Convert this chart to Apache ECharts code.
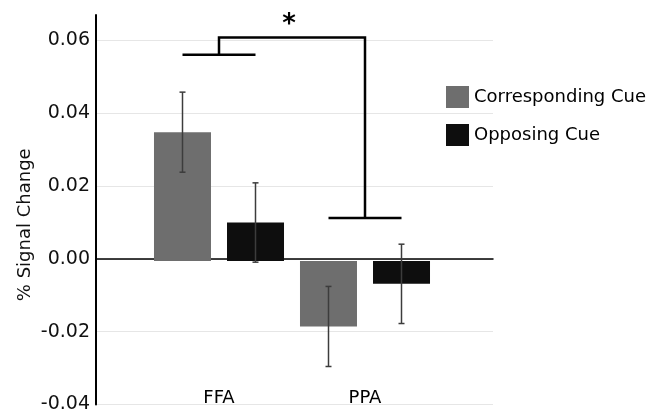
<!DOCTYPE html>
<html>
<head>
<meta charset="utf-8">
<script src="https://cdn.jsdelivr.net/npm/echarts@6/dist/echarts.min.js"></script>
<style>
  html, body { margin: 0; padding: 0; background: #fff; }
  #chart { width: 656px; height: 414px; }
</style>
</head>
<body>
<div id="chart"></div>
<script>
// data
const regions = ['FFA', 'PPA']
const seriesNames = ['Corresponding Cue', 'Opposing Cue']
const corrMeans = [0.0351, -0.0178]
const corrErr = [0.0109, 0.0109]
const oppMeans = [0.0105, -0.0062]
const oppErr = [0.0108, 0.0108]
const yTicks = { min: -0.04, max: 0.067, step: 0.02 }
// significance brackets: FFA pair level, top level, PPA pair level
const bracketLevels = { ffa: 0.0562, top: 0.0609, ppa: 0.0117 }

const barW = 57
const barGapPx = 16
const barOffset = (barW + barGapPx) / 2
const font = 'DejaVu Sans'

const chart = echarts.init(document.getElementById('chart'))

const errorData = (means, errs) =>
  means.map((m, i) => [i, m - errs[i], m + errs[i]])

const errorSeries = (name, means, errs, dir) => ({
  name: name + ' err',
  type: 'custom',
  xAxisIndex: 1,
  yAxisIndex: 1,
  z: 5,
  silent: true,
  data: errorData(means, errs),
  renderItem: (params, api) => {
    const lo = api.coord([api.value(0), api.value(1)])
    const hi = api.coord([api.value(0), api.value(2)])
    const x = lo[0] + dir * barOffset
    const cap = 3
    const style = { stroke: '#3c3c3c', lineWidth: 1.5 }
    return {
      type: 'group',
      children: [
        { type: 'line', shape: { x1: x, y1: lo[1], x2: x, y2: hi[1] }, style },
        { type: 'line', shape: { x1: x - cap, y1: lo[1], x2: x + cap, y2: lo[1] }, style },
        { type: 'line', shape: { x1: x - cap, y1: hi[1], x2: x + cap, y2: hi[1] }, style },
      ],
    }
  },
})

const option = {
  backgroundColor: '#fff',
  animation: false,
  textStyle: { fontFamily: font },
  grid: [
    { left: 96, right: 163, top: 15, bottom: 6 },
    { left: 146, right: 218, top: 15, bottom: 6 },
  ],
  legend: {
    orient: 'vertical',
    left: 441,
    top: 81,
    itemWidth: 23,
    itemHeight: 22,
    itemGap: 16,
    icon: 'rect',
    data: seriesNames,
    textStyle: { color: '#000', fontSize: 18, fontFamily: font },
  },
  xAxis: [
    {
      gridIndex: 0,
      type: 'category',
      data: regions,
      axisLine: { onZero: true, lineStyle: { color: '#000', width: 1.5 } },
      axisTick: { show: false },
      axisLabel: { show: false },
      splitLine: { show: false },
    },
    {
      gridIndex: 1,
      type: 'category',
      data: regions,
      axisLine: { show: false },
      axisTick: { show: false },
      axisLabel: { color: '#000', fontSize: 18, fontFamily: font, margin: -19 },
    },
  ],
  yAxis: [
    {
      gridIndex: 0,
      type: 'value',
      min: yTicks.min,
      max: yTicks.max,
      interval: yTicks.step,
      name: '% Signal Change',
      nameLocation: 'middle',
      nameGap: 62,
      nameMoveOverlap: false,
      nameTextStyle: { color: '#111', fontSize: 18, fontFamily: font, padding: [0, 30, 0, 0] },
      axisLine: { show: true, lineStyle: { color: '#000', width: 2 } },
      axisTick: { show: false },
      axisLabel: {
        color: '#111',
        fontSize: 19,
        fontFamily: font,
        margin: 6,
        showMaxLabel: false,
        formatter: (v) => (Math.abs(v) < 1e-9 ? 0 : v).toFixed(2),
      },
      splitLine: { showMaxLine: false, lineStyle: { color: '#e6e6e6', width: 1 } },
    },
    {
      gridIndex: 1,
      type: 'value',
      min: yTicks.min,
      max: yTicks.max,
      interval: yTicks.step,
      show: false,
      splitLine: { show: false },
    },
  ],
  series: [
    {
      name: seriesNames[0],
      type: 'bar',
      xAxisIndex: 1,
      yAxisIndex: 1,
      barWidth: barW,
      barGap: (barGapPx / barW * 100).toFixed(1) + '%',
      itemStyle: { color: '#6e6e6e' },
      data: corrMeans,
    },
    {
      name: seriesNames[1],
      type: 'bar',
      xAxisIndex: 1,
      yAxisIndex: 1,
      barWidth: barW,
      itemStyle: { color: '#0e0e0e' },
      data: oppMeans,
    },
    errorSeries(seriesNames[0], corrMeans, corrErr, -1),
    errorSeries(seriesNames[1], oppMeans, oppErr, 1),
    {
      name: 'bracket',
      type: 'custom',
      xAxisIndex: 1,
      yAxisIndex: 1,
      z: 6,
      silent: true,
      clip: false,
      data: [[0, 1, bracketLevels.ffa, bracketLevels.top, bracketLevels.ppa]],
      renderItem: (params, api) => {
        const a = api.coord([api.value(0), api.value(2)])
        const t = api.coord([api.value(0), api.value(3)])
        const b = api.coord([api.value(1), api.value(4)])
        const style = { stroke: '#000', lineWidth: 2.5, fill: null }
        const midX = (t[0] + b[0]) / 2
        return {
          type: 'group',
          children: [
            { type: 'line', shape: { x1: a[0] - barOffset, y1: a[1], x2: a[0] + barOffset, y2: a[1] }, style },
            { type: 'polyline', shape: { points: [[a[0], a[1]], [t[0], t[1]], [b[0], t[1]], [b[0], b[1]]] }, style },
            { type: 'line', shape: { x1: b[0] - barOffset, y1: b[1], x2: b[0] + barOffset, y2: b[1] }, style },
            {
              type: 'text',
              x: midX - 3,
              y: t[1] - 12,
              style: { text: '*', fill: '#000', font: 'bold 26px ' + font, align: 'center', verticalAlign: 'middle' },
            },
          ],
        }
      },
    },
  ],
}

chart.setOption(option)
</script>
</body>
</html>
